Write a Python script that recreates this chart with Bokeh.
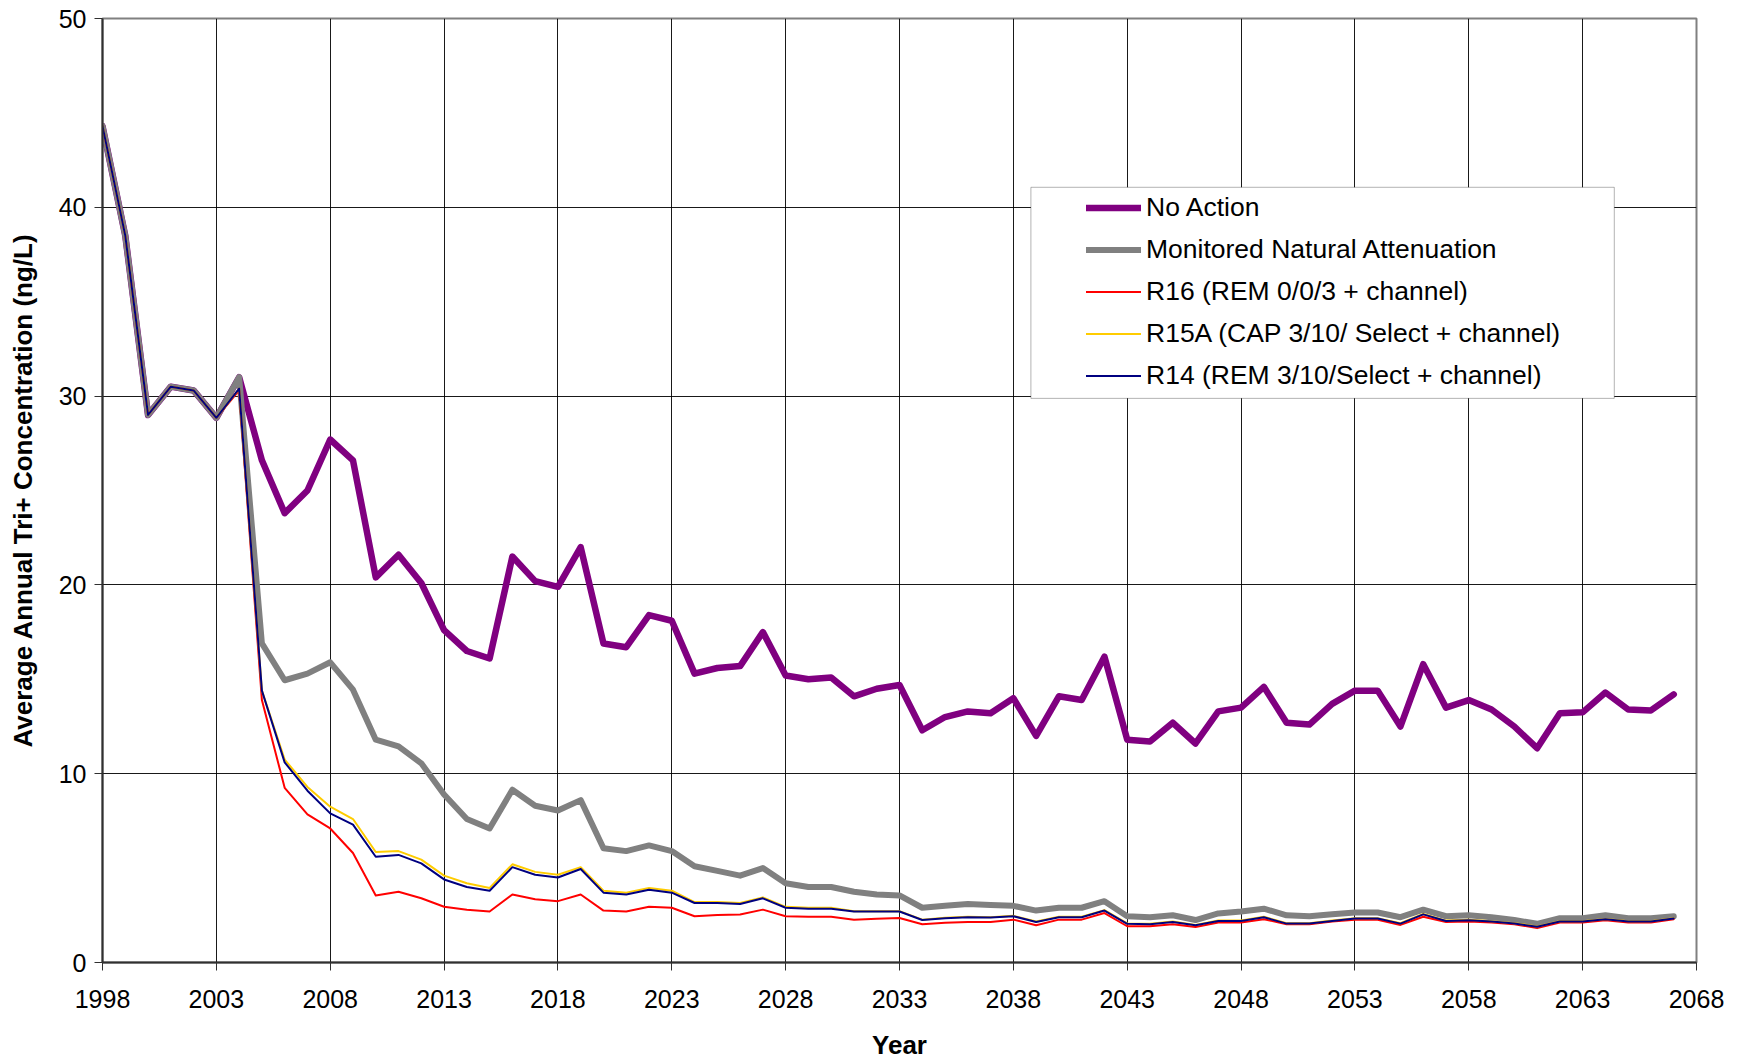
from bokeh.plotting import figure
from bokeh.models import ColumnDataSource, Legend, LegendItem, BoxAnnotation, FixedTicker, Range1d
from bokeh.embed import file_html
from bokeh.resources import INLINE

years = list(range(1998, 2068))

no_action = [44.3, 38.5, 29.0, 30.5, 30.3, 28.85, 31.0,
             26.6, 23.8, 25.0, 27.7, 26.6, 20.4, 21.6, 20.1, 17.6, 16.5,
             16.1, 21.5, 20.2, 19.9, 22.0, 16.9, 16.7, 18.4, 18.1, 15.3,
             15.6, 15.7, 17.5, 15.2, 15.0, 15.1, 14.1, 14.5, 14.7, 12.3,
             13.0, 13.3, 13.2, 14.0, 12.0, 14.1, 13.9, 16.2, 11.8, 11.7,
             12.7, 11.6, 13.3, 13.5, 14.6, 12.7, 12.6, 13.7, 14.4, 14.4,
             12.5, 15.8, 13.5, 13.9, 13.4, 12.5, 11.35, 13.2, 13.25, 14.3,
             13.4, 13.35, 14.2]

mna = [44.3, 38.5, 29.0, 30.5, 30.3, 28.85, 31.0,
       16.9, 14.95, 15.3, 15.9, 14.45, 11.8, 11.45, 10.55, 8.9, 7.6,
       7.1, 9.15, 8.3, 8.05, 8.6, 6.05, 5.9, 6.2, 5.9, 5.1,
       4.85, 4.6, 5.0, 4.2, 4.0, 4.0, 3.75, 3.6, 3.55, 2.9,
       3.0, 3.1, 3.05, 3.0, 2.75, 2.9, 2.9, 3.25, 2.45, 2.4,
       2.5, 2.25, 2.6, 2.7, 2.85, 2.5, 2.45, 2.55, 2.65, 2.65,
       2.4, 2.8, 2.45, 2.5, 2.4, 2.25, 2.05, 2.35, 2.35, 2.5,
       2.35, 2.35, 2.45]

r16 = [44.3, 38.5, 29.0, 30.5, 30.3, 28.85, 30.3,
       13.9, 9.25, 7.85, 7.1, 5.8, 3.55, 3.75, 3.4, 2.95, 2.8,
       2.7, 3.6, 3.35, 3.25, 3.6, 2.75, 2.7, 2.95, 2.9, 2.45,
       2.52, 2.54, 2.8, 2.45, 2.42, 2.42, 2.27, 2.32, 2.36, 2.03,
       2.1, 2.15, 2.15, 2.27, 1.97, 2.27, 2.27, 2.62, 1.92, 1.92,
       2.03, 1.88, 2.12, 2.12, 2.29, 2.03, 2.03, 2.17, 2.26, 2.26,
       1.99, 2.42, 2.15, 2.17, 2.12, 2.03, 1.82, 2.12, 2.12, 2.24,
       2.12, 2.12, 2.29]

r15a = [44.3, 38.5, 29.0, 30.5, 30.3, 28.85, 30.4,
        14.4, 10.75, 9.3, 8.25, 7.6, 5.85, 5.9, 5.45, 4.6, 4.2,
        3.95, 5.2, 4.8, 4.65, 5.05, 3.8, 3.7, 3.95, 3.8, 3.2,
        3.2, 3.15, 3.45, 2.95, 2.9, 2.9, 2.72, 2.72, 2.72, 2.27,
        2.37, 2.42, 2.4, 2.47, 2.17, 2.42, 2.42, 2.77, 2.07, 2.05,
        2.17, 1.99, 2.22, 2.22, 2.42, 2.08, 2.08, 2.22, 2.35, 2.35,
        2.08, 2.57, 2.22, 2.26, 2.19, 2.08, 1.91, 2.19, 2.19, 2.31,
        2.19, 2.19, 2.35]

r14 = [44.3, 38.5, 29.0, 30.5, 30.3, 28.85, 30.4,
       14.4, 10.6, 9.1, 7.9, 7.3, 5.6, 5.7, 5.25, 4.4, 4.0,
       3.8, 5.05, 4.65, 4.5, 4.95, 3.7, 3.6, 3.85, 3.7, 3.15,
       3.15, 3.1, 3.4, 2.9, 2.85, 2.85, 2.7, 2.7, 2.7, 2.25,
       2.35, 2.4, 2.38, 2.45, 2.15, 2.4, 2.4, 2.75, 2.05, 2.03,
       2.15, 1.97, 2.2, 2.2, 2.4, 2.06, 2.06, 2.2, 2.33, 2.33,
       2.06, 2.55, 2.2, 2.24, 2.17, 2.06, 1.89, 2.17, 2.17, 2.29,
       2.17, 2.17, 2.33]

series_names = ["No Action", "Monitored Natural Attenuation",
                "R16 (REM 0/0/3 + channel)",
                "R15A (CAP 3/10/ Select + channel)",
                "R14 (REM 3/10/Select + channel)"]
series_values = [no_action, mna, r16, r15a, r14]
series_colors = ["#800080", "#808080", "#FF0000", "#FFCC00", "#000080"]
series_widths = [6.5, 6, 2, 2, 2]

x_ticks = list(range(1998, 2069, 5))
y_ticks = [0, 10, 20, 30, 40, 50]

FONT = "Liberation Sans"

p = figure(frame_width=1594, frame_height=944,
           min_border_left=102, min_border_right=40, min_border_top=18, min_border_bottom=93,
           x_range=Range1d(1998, 2068), y_range=Range1d(0, 50),
           output_backend="svg", toolbar_location=None,
           background_fill_color="white", border_fill_color="white")

p.outline_line_color = "#808080"
p.outline_line_width = 2

for ax in (p.xaxis, p.yaxis):
    ax.major_label_text_font = FONT
    ax.major_label_text_font_size = "25px"
    ax.major_label_text_color = "black"
    ax.axis_label_text_font = FONT
    ax.axis_label_text_font_style = "bold"
    ax.axis_label_text_color = "black"
    ax.axis_line_color = "#303030"
    ax.axis_line_width = 2
    ax.major_tick_line_color = "#303030"
    ax.major_tick_line_width = 1
    ax.major_tick_in = 0
    ax.major_tick_out = 8
    ax.minor_tick_line_color = None

p.xaxis.ticker = FixedTicker(ticks=x_ticks)
p.yaxis.ticker = FixedTicker(ticks=y_ticks)
p.xaxis.axis_label = "Year"
p.yaxis.axis_label = "Average Annual Tri+ Concentration (ng/L)"
p.xaxis.axis_label_text_font_size = "26px"
p.yaxis.axis_label_text_font_size = "26px"
p.xaxis.major_label_standoff = 19
p.yaxis.major_label_standoff = 8
p.xaxis.axis_label_standoff = 19
p.yaxis.axis_label_standoff = 18

p.xgrid.ticker = FixedTicker(ticks=x_ticks)
p.ygrid.ticker = FixedTicker(ticks=y_ticks)
p.grid.grid_line_color = "#000000"
p.grid.grid_line_alpha = 0.9
p.grid.grid_line_width = 1

renderers = []
for name, vals, col, w in zip(series_names, series_values, series_colors, series_widths):
    src = ColumnDataSource(dict(year=years, value=vals))
    r = p.line("year", "value", source=src, line_color=col, line_width=w,
               line_join="round", line_cap="round")
    renderers.append(r)

# legend frame (white box behind legend)
box = BoxAnnotation(left=2038.77, right=2064.39, bottom=29.88, top=41.06,
                    fill_color="white", fill_alpha=1.0,
                    line_color="black", line_width=1, level="annotation")
p.add_layout(box)

legend = Legend(items=[LegendItem(label=n, renderers=[r]) for n, r in zip(series_names, renderers)],
                location=(984, 571), orientation="vertical",
                padding=0, spacing=11, glyph_width=55, glyph_height=31,
                label_height=31, label_standoff=5, margin=0,
                label_text_font=FONT, label_text_font_size="26.5px",
                label_text_color="black",
                border_line_alpha=0, background_fill_alpha=0)
p.add_layout(legend)

open("out.html", "w").write(file_html(p, INLINE))
